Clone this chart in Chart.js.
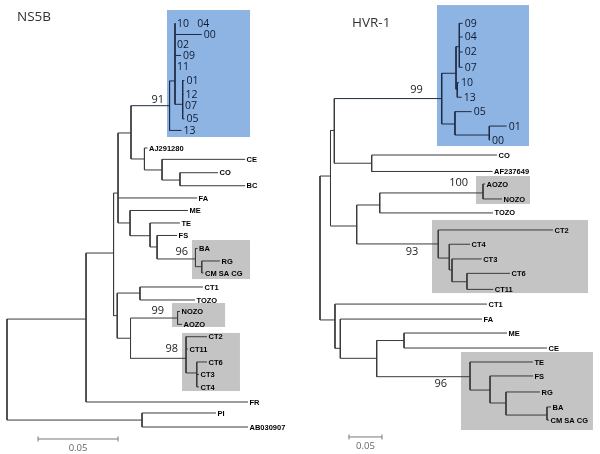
<!DOCTYPE html>
<html><head><meta charset="utf-8">
<script src="https://cdn.jsdelivr.net/npm/chart.js@4.4.1/dist/chart.umd.min.js"></script>
<style>
html,body{margin:0;padding:0;background:#fff;}
#wrap{position:relative;width:600px;height:454px;overflow:hidden;}
.pane{position:absolute;top:0;width:300px;height:454px;}
</style></head><body>
<div id="wrap">
  <div class="pane" style="left:0"><canvas id="left"></canvas></div>
  <div class="pane" style="left:300px"><canvas id="right"></canvas></div>
</div>
<script>
// ---------------- NS5B tree (left) ----------------
// node names (internal nodes have children, leaves are labelled), parent, distance from root, row (leaf order)
const leftNodes = ['root','L1','FR','LPI','PI','AB030907','L2','A','N131','N91','NB1','10   04','00','02','09','11','NB2','01','12','07','05','13','AJn','AJ291280','CEn','CE','COn','CO','BC','FA','MEn','ME','TEn','TE','FSn','FS','N96','BA','RGn','RG','CM SA CG','B','CT1n','CT1','TOZO','N99p','N99','NOZO','AOZO','N98','CT2','CT11','N98b','CT6','CT3','CT4'];
const leftParents = [null,'root','L1','root','LPI','LPI','L1','L2','A','N131','N91','NB1','NB1','NB1','NB1','NB1','NB1','NB2','NB2','NB2','NB2','N91','N131','AJn','AJn','CEn','CEn','COn','COn','A','A','MEn','MEn','TEn','TEn','FSn','FSn','N96','N96','RGn','RGn','L2','B','CT1n','CT1n','B','N99p','N99','N99','N99p','N98','N98','N98','N98b','N98b','N98b'];
const leftDist = [0,0.0494,0.1506,0.0844,0.1306,0.1506,0.0666,0.0694,0.0775,0.1016,0.1050,0.1050,0.1217,0.1050,0.1088,0.1050,0.1098,0.1109,0.1103,0.1100,0.1109,0.1091,0.0859,0.0878,0.0969,0.1488,0.1081,0.1319,0.1488,0.1188,0.0769,0.1131,0.0894,0.1081,0.0938,0.1063,0.1178,0.1191,0.1217,0.1331,0.1228,0.0689,0.0831,0.1225,0.1175,0.0772,0.1066,0.1081,0.1094,0.1119,0.1250,0.1131,0.1186,0.1250,0.1200,0.1200];
const leftRows = [27.41,23.45,30.02,31.45,30.89,32.00,18.22,13.47,8.71,6.55,4.59,0.02,0.91,1.74,2.57,3.45,6.44,4.55,5.66,6.50,7.60,8.51,10.77,9.90,11.64,10.80,12.44,11.86,12.89,13.86,15.84,14.85,16.85,15.84,17.74,16.83,18.69,17.86,19.30,18.85,19.80,23.18,21.39,20.91,21.94,24.97,23.37,22.85,23.87,26.56,24.85,25.82,27.72,26.85,27.84,28.83];
const leftBootNodes = ['N91','N96','N99','N98'];
const leftBootValues = [91,96,99,98];
const leftBoxX = [[0.1000,0.1519],[0.1156,0.1519],[0.1031,0.1363],[0.1094,0.1456]];
const leftBoxRows = [[-1.03,9.03],[17.19,20.28],[22.18,24.08],[24.55,29.15]];
const leftScaleBar = [0.0194, 32.95, 0.05]; // start, row, length

// ---------------- HVR-1 tree (right) ----------------
const rightNodes = ['root','R1','R2','N99','RB1','RB1a','09','04','02','07','RB1b','10','13','RB2','05','RB2a','01','00','COn','CO','AF237649','R3','R4','N100','AOZO','NOZO','TOZO','N93','CT2','N93b','CT4','N93c','CT3','N93d','CT6','CT11','R5','CT1','R6','FA','R7','MEn','ME','CE','N96','TE','N96b','FS','N96c','RG','N96d','BA','CM SA CG'];
const rightParents = [null,'root','R1','R2','N99','RB1','RB1a','RB1a','RB1a','RB1a','RB1','RB1b','RB1b','N99','RB2','RB2','RB2a','RB2a','R2','COn','COn','R1','R3','R4','N100','N100','R4','R3','N93','N93','N93b','N93b','N93c','N93c','N93d','N93d','root','R5','R5','R6','R6','R7','MEn','MEn','R7','N96','N96','N96b','N96b','N96c','N96c','N96d','N96d'];
const rightDist = [0,0.0159,0.0217,0.1844,0.2061,0.2111,0.2162,0.2162,0.2162,0.2162,0.2080,0.2106,0.2147,0.2045,0.2298,0.2565,0.2829,0.2576,0.0783,0.2682,0.2614,0.0556,0.0905,0.2470,0.2500,0.2758,0.2621,0.1792,0.3530,0.1959,0.2273,0.2000,0.2450,0.2227,0.2879,0.2626,0.0227,0.2530,0.0308,0.2455,0.0859,0.1273,0.2833,0.3439,0.2273,0.3227,0.2576,0.3227,0.2818,0.3333,0.3439,0.3500,0.3470];
const rightRows = [15.0,10.39,7.29,5.12,3.40,1.59,0,0.93,1.95,2.99,4.49,4.04,5.03,6.85,6.01,7.60,6.99,7.94,9.52,8.96,10.08,13.79,12.36,11.54,10.93,11.95,12.90,15.01,14.06,15.97,15.03,16.78,16.03,17.58,17.01,18.10,20.18,19.10,22.11,20.12,22.79,21.58,21.07,22.09,24.04,23.04,24.95,23.99,25.83,25.08,26.65,26.10,26.99];
const rightBootNodes = ['N99','N100','N93','N96'];
const rightBootValues = [99,100,93,96];
const rightBoxX = [[0.1773,0.3167],[0.2364,0.3182],[0.1697,0.4061],[0.2136,0.4136]];
const rightBoxRows = [[-1.24,8.35],[10.39,12.29],[13.38,18.35],[22.36,27.67]];
const rightScaleBar = [0.0439, 28.14, 0.05];

// ---------------- styling ----------------
const BLUE = '#8db4e2', GRAY = '#c4c4c4';
const boxColors = [BLUE, GRAY, GRAY, GRAY];
const leftBootOffset = [[5.5,-6],[7.5,-7],[13.5,-7],[8,-9]];
const rightBootOffset = [[19,-8.5],[15,-10],[20,8],[23,7]];

function buildTree(nodes, parents, dist, rows){
  const idx = {}; nodes.forEach((n,i)=>idx[n]=i);
  const children = nodes.map(()=>[]);
  parents.forEach((p,i)=>{ if(p!==null) children[idx[p]].push(i); });
  return {nodes, parents, dist, rows, idx, children};
}
function descendants(t, name){
  const s = new Set(); const stack=[t.idx[name]];
  while(stack.length){ const i=stack.pop(); s.add(i); t.children[i].forEach(c=>stack.push(c)); }
  return s;
}
function datasetsFor(t, clade, bar){
  const ds=[];
  const mk=(data,col)=>({data, showLine:true, pointRadius:0, pointHoverRadius:0, borderWidth:1, borderColor:col, fill:false});
  t.nodes.forEach((n,i)=>{
    const col = clade.has(i) ? '#1f2b45' : '#3a3a3a';
    const p = t.parents[i];
    if(p!==null) ds.push(mk([{x:t.dist[t.idx[p]], y:t.rows[i]},{x:t.dist[i], y:t.rows[i]}], col));
    if(t.children[i].length){
      const rs=t.children[i].map(c=>t.rows[c]);
      ds.push(mk([{x:t.dist[i], y:Math.min(...rs)},{x:t.dist[i], y:Math.max(...rs)}], col));
    }
  });
  ds.push(mk([{x:bar[0], y:bar[1]},{x:bar[0]+bar[2], y:bar[1]}], '#777'));
  return ds;
}
function decor(t, clade, cfg){
  return {
    id:'treeDecor',
    beforeDatasetsDraw(chart){
      const {ctx, scales:{x,y}} = chart;
      ctx.save();
      cfg.boxX.forEach((bx,i)=>{
        const x0=x.getPixelForValue(bx[0]), x1=x.getPixelForValue(bx[1]);
        const y0=y.getPixelForValue(cfg.boxRows[i][0]), y1=y.getPixelForValue(cfg.boxRows[i][1]);
        ctx.fillStyle = boxColors[i];
        ctx.fillRect(x0,y0,x1-x0,y1-y0);
      });
      ctx.restore();
    },
    afterDatasetsDraw(chart){
      const {ctx, scales:{x,y}} = chart;
      ctx.save();
      ctx.textBaseline='middle';
      // leaf labels
      t.nodes.forEach((n,i)=>{
        if(t.children[i].length) return;
        const px=x.getPixelForValue(t.dist[i]), py=y.getPixelForValue(t.rows[i]);
        if(clade.has(i)){
          ctx.font='10.5px "Open Sans", sans-serif'; ctx.fillStyle='#101a33';
          ctx.textAlign='left'; ctx.fillText(n, px+2, py+0.5);
        } else {
          ctx.font='bold 7.5px "Liberation Sans", Arial, sans-serif'; ctx.fillStyle='#000';
          ctx.textAlign='left'; ctx.fillText(n, px+1.5, py+0.5);
        }
      });
      // bootstrap values
      ctx.font='11px "Open Sans", sans-serif'; ctx.fillStyle='#222'; ctx.textAlign='right';
      cfg.bootNodes.forEach((n,k)=>{
        const i=t.idx[n];
        const px=x.getPixelForValue(t.dist[i]), py=y.getPixelForValue(t.rows[i]);
        ctx.fillText(String(cfg.bootValues[k]), px-cfg.bootOffset[k][0], py+cfg.bootOffset[k][1]);
      });
      // scale bar caps and label
      const b=cfg.bar;
      const bx0=x.getPixelForValue(b[0]), bx1=x.getPixelForValue(b[0]+b[2]), by=y.getPixelForValue(b[1]);
      ctx.strokeStyle='#777'; ctx.lineWidth=1;
      ctx.beginPath(); ctx.moveTo(bx0,by-2.5); ctx.lineTo(bx0,by+2.5); ctx.moveTo(bx1,by-2.5); ctx.lineTo(bx1,by+2.5); ctx.stroke();
      ctx.font='9.5px "Open Sans", sans-serif'; ctx.fillStyle='#666'; ctx.textAlign='center';
      ctx.fillText(String(b[2]), (bx0+bx1)/2, by+9);
      // panel title
      ctx.font='13.5px "Open Sans", sans-serif'; ctx.fillStyle='#333'; ctx.textAlign='left';
      ctx.fillText(cfg.title, cfg.titlePos[0], cfg.titlePos[1]);
      ctx.restore();
    }
  };
}
function makeChart(id, t, cladeRoot, cfg, xr, yr){
  const clade = descendants(t, cladeRoot);
  return new Chart(document.getElementById(id), {
    type:'scatter',
    data:{datasets: datasetsFor(t, clade, cfg.bar)},
    options:{
      responsive:true, maintainAspectRatio:false, animation:false,
      layout:{padding:0},
      events:[],
      plugins:{legend:{display:false}, tooltip:{enabled:false}, title:{display:false}},
      scales:{
        x:{type:'linear', display:false, min:xr[0], max:xr[1]},
        y:{type:'linear', display:false, reverse:true, min:yr[0], max:yr[1]}
      }
    },
    plugins:[decor(t, clade, cfg)]
  });
}
const leftTree = buildTree(leftNodes, leftParents, leftDist, leftRows);
const rightTree = buildTree(rightNodes, rightParents, rightDist, rightRows);
makeChart('left', leftTree, 'N91',
  {boxX:leftBoxX, boxRows:leftBoxRows, bootNodes:leftBootNodes, bootValues:leftBootValues, bootOffset:leftBootOffset, bar:leftScaleBar, title:'NS5B', titlePos:[17,17.5]},
  [-0.004375, 0.183125], [-1.8218, 34.1386]);
makeChart('right', rightTree, 'N99',
  {boxX:rightBoxX, boxRows:rightBoxRows, bootNodes:rightBootNodes, bootValues:rightBootValues, bootOffset:rightBootOffset, bar:rightScaleBar, title:'HVR-1', titlePos:[52,23.5]},
  [-0.030303, 0.424242], [-1.5850, 29.2993]);
</script>
</body></html>
